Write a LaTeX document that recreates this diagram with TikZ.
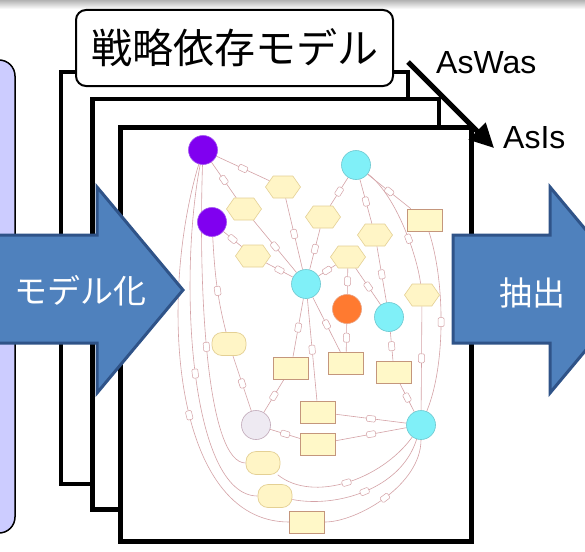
\documentclass[tikz,border=0pt]{standalone}
\usepackage{fontspec}
\newfontfamily\jp{Noto Sans CJK JP}
\newfontfamily\lat{Liberation Sans}
\usetikzlibrary{shapes.geometric,shapes.symbols,arrows.meta}
\pgfdeclarelayer{bottom}
\pgfdeclarelayer{edges}
\pgfsetlayers{bottom,edges,main}
\definecolor{lav}{HTML}{CCCCFF}
\definecolor{bfill}{HTML}{4F81BD}
\definecolor{bline}{HTML}{2F5388}
\definecolor{edgec}{HTML}{D4A2A6}
\definecolor{hexf}{HTML}{FFF5C6}
\definecolor{hexd}{HTML}{E4D094}
\definecolor{recf}{HTML}{FFF8C8}
\definecolor{recd}{HTML}{C4967C}
\definecolor{purp}{HTML}{8000F0}
\definecolor{purpd}{HTML}{A050F0}
\definecolor{cyanf}{HTML}{80F0F8}
\definecolor{cyand}{HTML}{6CC8D0}
\definecolor{orng}{HTML}{FF7A30}
\definecolor{orngd}{HTML}{E8A080}
\definecolor{grayf}{HTML}{EEEAF2}
\definecolor{grayd}{HTML}{C0A8B8}
\tikzset{
  frame/.style={draw=black, fill=white},
  gedge/.style={draw=edgec, line width=0.6pt},
  mk/.style={draw=edgec, fill=white, line width=0.5pt, minimum width=9pt, minimum height=6pt, inner sep=0pt, rounded corners=1.2pt, sloped},
  hexn/.style={signal, signal to=east and west, signal pointer angle=110, draw=hexd, fill=hexf, minimum width=35pt, minimum height=22pt, inner sep=0pt, line width=0.6pt},
  recn/.style={rectangle, draw=recd, fill=recf, minimum width=35pt, minimum height=22pt, inner sep=0pt, line width=0.7pt},
  stad/.style={rectangle, rounded corners=10pt, draw=hexd, fill=hexf, minimum width=34pt, minimum height=23pt, inner sep=0pt, line width=0.7pt},
  circn/.style={circle, minimum size=29pt, inner sep=0pt, line width=0.6pt},
  barrow/.style={fill=bfill, draw=bline, line width=3pt, line join=miter},
  wtext/.style={text=white, font=\jp\fontsize{33}{33}\selectfont, inner sep=0pt},
  lattext/.style={font=\lat\fontsize{32}{32}\selectfont, anchor=base west, inner sep=0pt},
}
\begin{document}
\begin{tikzpicture}[x=1pt,y=-1pt]
\useasboundingbox (0,0) rectangle (585,551);
\clip (0,0) rectangle (585,551);
\begin{pgfonlayer}{bottom}
\fill[white] (0,0) rectangle (585,551);
\shade[top color=black!30, bottom color=white] (0,0) rectangle (585,9);
\draw[fill=lav, line width=1.5pt, rounded corners=16pt] (-40,60) rectangle (15,533);
\draw[frame, line width=4pt] (61,71.5) rectangle (408,483.5);
\node[draw, fill=white, line width=2pt, rounded corners=10pt, minimum width=317pt, minimum height=76pt, inner sep=0pt, font=\jp\fontsize{41}{41}\selectfont] (lbl) at (234.5,48) {戦略依存モデル};
\draw[frame, line width=4.5pt] (92.5,99) rectangle (439,509.5);
\draw[frame, line width=5pt] (120,127) rectangle (471,541);
\end{pgfonlayer}

% graph nodes
\node[circn, fill=purp, draw=purpd] (P1) at (203,150) {};
\node[circn, fill=purp, draw=purpd] (P2) at (212,222) {};
\node[hexn] (H1) at (283,187) {};
\node[hexn] (H2) at (244,209) {};
\node[hexn] (H3) at (253,256) {};
\node[hexn] (H4) at (323,217) {};
\node[hexn] (H5) at (348,257) {};
\node[hexn] (H7) at (375,235) {};
\node[hexn] (H8) at (422,295) {};
\node[circn, fill=cyanf, draw=cyand] (C1) at (306,284) {};
\node[circn, fill=cyanf, draw=cyand] (C2) at (356,165) {};
\node[circn, fill=cyanf, draw=cyand] (C3) at (389,317) {};
\node[circn, fill=cyanf, draw=cyand] (C4) at (421,425) {};
\node[circn, fill=orng, draw=orngd] (O) at (347,309) {};
\node[circn, fill=grayf, draw=grayd] (G) at (256,425) {};
\node[recn] (R1) at (425,220) {};
\node[recn] (R2) at (291,368) {};
\node[recn] (R3) at (346,363) {};
\node[recn] (R4) at (394,372) {};
\node[recn] (R5) at (318,412) {};
\node[recn] (R6) at (318,444) {};
\node[recn] (R7) at (307,522) {};
\node[stad] (S0) at (229,344) {};
\node[stad] (S1) at (263,463) {};
\node[stad] (S2) at (275,496) {};

% graph edges
\begin{pgfonlayer}{edges}
\draw[gedge] (P1) -- node[mk]{} (H1);
\draw[gedge] (P1) -- node[mk]{} (H2);
\draw[gedge] (P2) -- node[mk]{} (H3);
\draw[gedge] (H1) -- node[mk]{} (C1);
\draw[gedge] (H2) -- node[mk]{} (C1);
\draw[gedge] (H3) -- node[mk]{} (C1);
\draw[gedge] (H4) -- node[mk]{} (C1);
\draw[gedge] (H5) -- node[mk]{} (C1);
\draw[gedge] (C2) -- node[mk]{} (H4);
\draw[gedge] (C2) -- node[mk]{} (H7);
\draw[gedge] (C2) -- node[mk]{} (R1);
\draw[gedge] (C2) .. controls +(40,30) and +(-5,-40) .. node[mk, pos=0.6]{} (H8);
\draw[gedge] (H7) -- node[mk]{} (C3);
\draw[gedge] (H5) -- node[mk]{} (O);
\draw[gedge] (H5) -- node[mk]{} (C3);
\draw[gedge] (C1) -- node[mk]{} (R2);
\draw[gedge] (C1) -- node[mk]{} (R5);
\draw[gedge] (C1) -- node[mk]{} (R3);
\draw[gedge] (O) -- node[mk]{} (R3);
\draw[gedge] (C3) -- node[mk]{} (R4);
\draw[gedge] (R4) -- node[mk]{} (C4);
\draw[gedge] (R2) -- node[mk]{} (G);
\draw[gedge] (R5) -- node[mk]{} (C4);
\draw[gedge] (G) -- node[mk]{} (R6);
\draw[gedge] (R6) -- node[mk]{} (C4);
\draw[gedge] (H8) -- node[mk]{} (C4);
\draw[gedge] (R1) .. controls +(20,60) and +(25,-60) .. node[mk]{} (C4);
\draw[gedge] (S1) .. controls +(50,40) and +(-40,55) .. node[mk]{} (C4);
\draw[gedge] (S2) .. controls +(60,12) and +(-20,65) .. node[mk]{} (C4);
\draw[gedge] (R7) .. controls +(50,0) and +(0,60) .. node[mk]{} (C4);
\draw[gedge] (P2) .. controls +(3,60) and +(-10,-40) .. node[mk, pos=0.5]{} (S0);
\draw[gedge] (S0) -- node[mk]{} (G);
\draw[gedge] (P1) .. controls +(-5,150) and +(-55,0) .. node[mk, pos=0.45]{} (S1);
\draw[gedge] (P1) .. controls +(-25,130) and +(-85,0) .. node[mk, pos=0.5]{} (S2);
\draw[gedge] (P1) .. controls +(-45,150) and +(-135,0) .. node[mk, pos=0.55]{} (R7);
\end{pgfonlayer}

% blue arrows
\draw[barrow] (-10,235) -- (97,235) -- (97,187) -- (183,290) -- (97,393) -- (97,343) -- (-10,343) -- cycle;
\node[wtext] (tm) at (80,291) {モデル化};
\draw[barrow] (453,235) -- (550,235) -- (550,187) -- (636,290) -- (550,393) -- (550,343) -- (453,343) -- cycle;
\node[wtext] (tc) at (532,293) {抽出};

% AsWas -> AsIs arrow
\coordinate (aw) at (408,62);
\coordinate (ai) at (494,148);
\draw[line width=5pt, -{Triangle[length=24pt,width=23pt]}] (aw) -- (ai);
\node[lattext] (aswas) at (436,73) {AsWas};
\node[lattext] (asis) at (503,148) {AsIs};
\end{tikzpicture}
\end{document}
